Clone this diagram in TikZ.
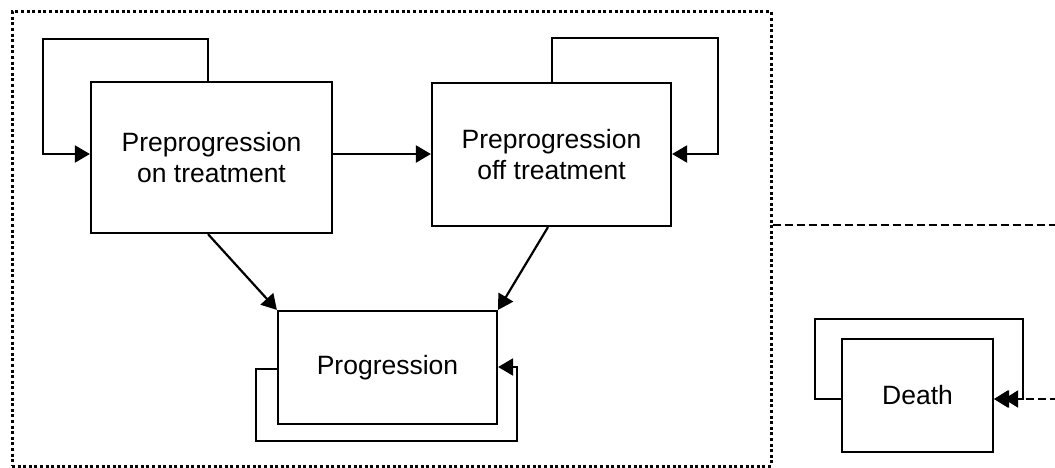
\documentclass[tikz,border=0pt]{standalone}
\usepackage{fontspec}
\setmainfont{Liberation Sans}
\usetikzlibrary{arrows.meta}
\begin{document}
\begin{tikzpicture}[x=1pt,y=-1pt,
  box/.style={draw, line width=2.2pt, inner sep=0pt, align=center, font=\fontsize{26.5}{31}\selectfont},
  arr/.style={line width=2.2pt, -{Triangle[length=15pt,width=17pt]}},
  frm/.style={draw, line width=3pt, dash pattern=on 3pt off 2.6pt, inner sep=0pt},
  dsh/.style={line width=2.2pt, dash pattern=on 8pt off 4pt}]
\useasboundingbox (0,0) rectangle (1055,468);
\node[frm, minimum width=759pt, minimum height=454pt] (frame) at (391.5,239) {};
\node[box, minimum width=241pt, minimum height=151pt] (b1) at (211.5,157.5) {Preprogression\\on treatment};
\node[box, minimum width=239pt, minimum height=143pt] (b2) at (551.5,154.5) {Preprogression\\off treatment};
\node[box, minimum width=219pt, minimum height=113pt] (pr) at (387.5,367.5) {Progression};
\node[box, minimum width=151pt, minimum height=113pt] (de) at (917.5,395.5) {Death};
% loops
\draw[arr] (b1.north -| 208,0) -- (208,39) -- (43,39) -- (43,154) -- (b1.west |- 0,154);
\draw[arr] (b2.north -| 552,0) -- (552,38) -- (718,38) -- (718,154) -- (b2.east |- 0,154);
\draw[arr] (pr.west |- 0,369) -- (256,369) -- (256,441) -- (517,441) -- (517,367) -- (pr.east |- 0,367);
\draw[arr] (de.west |- 0,399) -- (815,399) -- (815,319) -- (1023,319) -- (1023,399) -- (de.east |- 0,399);
% transitions
\draw[arr] (b1.east |- 0,154) -- (b2.west |- 0,154);
\draw[arr] (b1.south -| 208,0) -- (pr.north west);
\draw[arr] (b2.south -| 548,0) -- (pr.north east);
\draw[dsh, -{Triangle[length=14pt,width=17pt,sep=-4pt] Triangle[length=14pt,width=17pt]}] (frame.east |- 0,225) -- (1062,225) -- (1062,399) -- (de.east |- 0,399);
\end{tikzpicture}
\end{document}
